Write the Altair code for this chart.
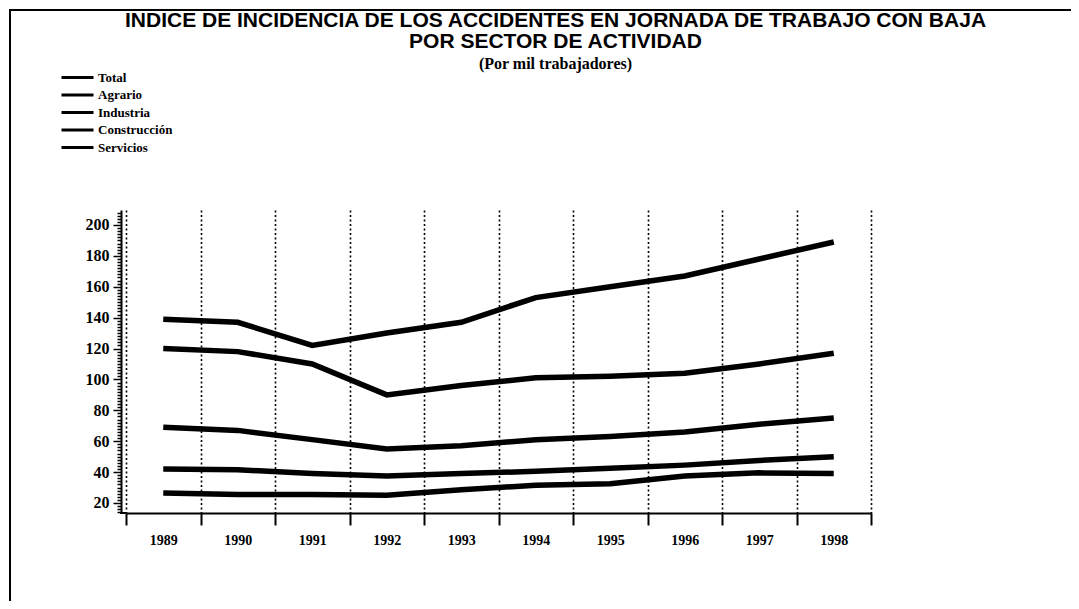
import altair as alt
import pandas as pd

# ---- data (per mil trabajadores) ----
years = [1989, 1990, 1991, 1992, 1993, 1994, 1995, 1996, 1997, 1998]
sectors = ["Total", "Agrario", "Industria", "Construcción", "Servicios"]
total = [69, 67, 61, 55, 57, 61, 63, 66, 71, 75]
agrario = [26.5, 25.5, 25.5, 25, 28.5, 31.5, 32.5, 37.5, 39.5, 39]
industria = [120, 118, 110, 90, 96, 101, 102, 104, 110, 117]
construccion = [139, 137, 122, 130, 137, 153, 160, 167, 178, 189]
servicios = [42, 41.5, 39, 37.5, 39, 40.5, 42.5, 44.5, 47.5, 50]

series = {
    "Total": total,
    "Agrario": agrario,
    "Industria": industria,
    "Construcción": construccion,
    "Servicios": servicios,
}
rows = [
    {"year": y, "sector": s, "value": v}
    for s in sectors
    for y, v in zip(years, series[s])
]
df = pd.DataFrame(rows)

title_lines = [
    "INDICE DE INCIDENCIA DE LOS ACCIDENTES EN JORNADA DE TRABAJO CON BAJA",
    "POR SECTOR DE ACTIVIDAD",
]
subtitle = "(Por mil trabajadores)"

W, H = 745, 303
PAD_L, PAD_T = 118, 202
SVG_W, SVG_H = 1063, 593

serif = "Liberation Serif"

lines = alt.Chart(df).mark_line(strokeWidth=5.5, interpolate="linear").encode(
    x=alt.X(
        "year:O",
        scale=alt.Scale(type="band", paddingInner=0, paddingOuter=0),
        axis=alt.Axis(
            title=None,
            labelAngle=0,
            tickBand="extent",
            grid=True,
            gridColor="black",
            gridDash=[2, 2.5],
            gridWidth=1.6,
            tickSize=12,
            tickWidth=2,
            tickColor="black",
            domainColor="black",
            domainWidth=2,
            labelFont=serif,
            labelFontSize=14,
            labelFontWeight="bold",
            labelColor="black",
            labelPadding=8,
        ),
    ),
    y=alt.Y(
        "value:Q",
        scale=alt.Scale(domain=[13.5, 209.7], nice=False, zero=False),
        axis=alt.Axis(
            title=None,
            values=list(range(14, 210, 2)),
            labelExpr="datum.value % 20 === 0 ? datum.label : ''",
            labelOverlap=False,
            offset=5,
            grid=False,
            tickSize={"condition": {"test": "datum.value % 20 === 0", "value": 8}, "value": 4},
            tickWidth=1.5,
            tickColor="black",
            domainColor="black",
            domainWidth=2,
            labelFont=serif,
            labelFontSize=16,
            labelFontWeight="bold",
            labelColor="black",
            labelPadding=4,
        ),
    ),
    color=alt.Color(
        "sector:N",
        scale=alt.Scale(domain=sectors, range=["black"] * 5),
        legend=alt.Legend(
            title=None,
            orient="none",
            legendX=68 - 126,
            legendY=68 - 210,
            padding=0,
            symbolType="M-2,0L2,0",
            symbolSize=256,
            symbolStrokeWidth=3,
            labelFont=serif,
            labelFontSize=13,
            labelFontWeight="bold",
            labelColor="black",
            labelOffset=11,
            rowPadding=0.5,
        ),
    ),
)

one = alt.Chart(pd.DataFrame({"k": [0]}))
frame_left = one.mark_rule(color="black", strokeWidth=2).encode(
    x=alt.value(-116), y=alt.value(-200), y2=alt.value(SVG_H - PAD_T)
)
frame_top = one.mark_rule(color="black", strokeWidth=2).encode(
    x=alt.value(-117), x2=alt.value(SVG_W - PAD_L), y=alt.value(-200)
)
corner = one.mark_rule(color="black", strokeWidth=2).encode(
    x=alt.value(-6), x2=alt.value(0), y=alt.value(H)
)

chart = (
    alt.layer(lines, frame_left, frame_top, corner)
    .properties(
        width=W,
        height=H,
        title=alt.Title(
            text=title_lines,
            subtitle=subtitle,
            anchor="middle",
            frame="group",
            dx=57,
            dy=63,
            offset=0,
            font="Liberation Sans",
            fontSize=21,
            fontWeight="bold",
            lineHeight=21,
            color="black",
            subtitleFont=serif,
            subtitleFontSize=16,
            subtitleFontWeight="bold",
            subtitleColor="black",
            subtitlePadding=4,
        ),
        autosize=alt.AutoSizeParams(type="none"),
        padding={"left": PAD_L, "top": PAD_T, "right": SVG_W - PAD_L - W, "bottom": SVG_H - PAD_T - H},
        background="white",
    )
    .configure_view(stroke=None)
)

chart.save("out.html", embed_options={"renderer": "svg", "actions": False})
